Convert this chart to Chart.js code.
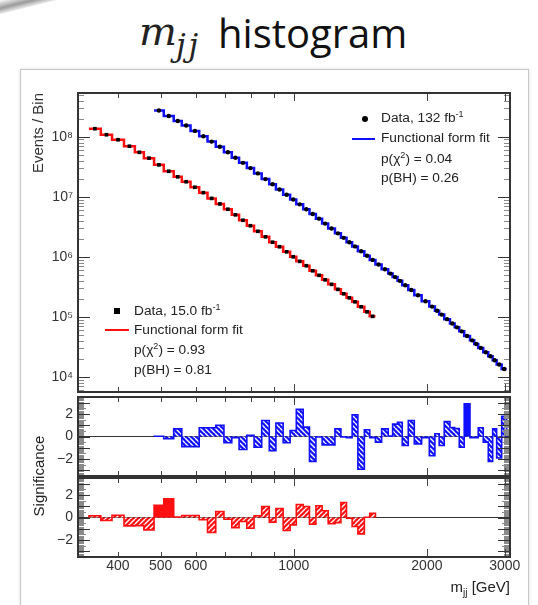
<!DOCTYPE html>
<html>
<head>
<meta charset="utf-8">
<script src="https://cdn.jsdelivr.net/npm/chart.js@4.4.1/dist/chart.umd.min.js"></script>
<style>
  body { margin: 0; width: 538px; height: 605px; overflow: hidden; position: relative; background: #fff;
         font-family: "Liberation Sans", Arial, sans-serif; color: #222; }
  .abs { position: absolute; white-space: nowrap; }
  canvas { position: absolute; left: 0; }
  .leg { font-size: 13.7px; line-height: 16px; }
  .leg sup { font-size: 9px; vertical-align: 5px; line-height: 0; }
  #frame { left: 20px; top: 69px; width: 507px; height: 560px; border: 1px solid #c8c8c8; box-shadow: 0 0 3px #ddd; }
  #corner { left: -12px; top: -6px; width: 72px; height: 14px; transform: rotate(-14deg);
            background: linear-gradient(#fff, #9a9a9a 60%, #eee); }
</style>
</head>
<body>
<div id="corner" class="abs"></div>
<div id="frame" class="abs"></div>

<div class="abs" style="left:139px; top:6px; font-family:'DejaVu Serif'; font-style:italic; font-size:40px; line-height:50px;">m</div>
<div class="abs" style="left:176px; top:26px; font-family:'DejaVu Serif'; font-style:italic; font-size:31px; line-height:38px; letter-spacing:3px;">jj</div>
<div class="abs" style="left:218px; top:8px; font-family:'Open Sans'; font-size:40px; line-height:50px; color:#111;">histogram</div>

<canvas id="main" width="538" height="327" style="top:79px"></canvas>
<canvas id="sigBlue" width="538" height="107" style="top:383px"></canvas>
<canvas id="sigRed" width="538" height="141" style="top:464px"></canvas>

<!-- legends -->
<div class="abs" style="left:362px; top:116px; width:6px; height:6px; border-radius:3px; background:#000;"></div>
<div class="abs leg" style="left:381px; top:110px;">Data, 132 fb<sup>-1</sup></div>
<div class="abs" style="left:352px; top:138px; width:23px; height:2px; background:#1010ff;"></div>
<div class="abs leg" style="left:381px; top:130px;">Functional form fit</div>
<div class="abs leg" style="left:381px; top:151px;">p(χ<sup>2</sup>) = 0.04</div>
<div class="abs leg" style="left:381px; top:170px;">p(BH) = 0.26</div>

<div class="abs" style="left:114px; top:308px; width:6px; height:6px; background:#000;"></div>
<div class="abs leg" style="left:134px; top:303px;">Data, 15.0 fb<sup>-1</sup></div>
<div class="abs" style="left:105px; top:329px; width:24px; height:2px; background:#ff1010;"></div>
<div class="abs leg" style="left:134px; top:322px;">Functional form fit</div>
<div class="abs leg" style="left:134px; top:342px;">p(χ<sup>2</sup>) = 0.93</div>
<div class="abs leg" style="left:134px; top:362px;">p(BH) = 0.81</div>

<div class="abs" style="left:-3px; top:467px; width:84px; text-align:center; transform:rotate(-90deg); font-size:15px; line-height:18px;">Significance</div>
<div class="abs" style="right:28px; top:578px; font-size:15px; line-height:18px;">m<sub style="font-size:10px;">jj</sub> [GeV]</div>

<script>
// bin edges in GeV (shared by both datasets)
const edges = [344, 366, 388, 413, 437, 458, 483, 508, 535, 558, 584, 611, 638, 666, 695, 724, 752, 783, 813, 846,
  880, 911, 946, 981, 1013, 1050, 1085, 1122, 1159, 1196, 1239, 1278, 1316, 1355, 1396, 1444, 1485, 1530, 1580, 1635,
  1673, 1716, 1759, 1815, 1873, 1946, 2025, 2085, 2132, 2189, 2255, 2311, 2367, 2429, 2503, 2559, 2613, 2682, 2753, 2817,
  2876, 2952, 3030];

// 15.0 fb-1, starts at edge 0
const redFirst = 0;
const redCounts = [1.36e8, 1.08e8, 8.9e7, 6.95e7, 5.5e7, 4.4e7, 3.4e7, 2.66e7, 2.15e7, 1.78e7,
  1.44e7, 1.17e7, 9.4e6, 7.6e6, 6.2e6, 5.0e6, 4.06e6, 3.29e6, 2.66e6, 2.15e6,
  1.75e6, 1.47e6, 1.21e6, 1.0e6, 8.4e5, 7.1e5, 5.85e5, 4.92e5, 4.14e5, 3.48e5,
  2.87e5, 2.42e5, 2.07e5, 1.78e5, 1.47e5, 1.21e5, 1.02e5];
const redSig = [0.15, -0.27, 0.2, -0.74, -0.72, -1.1, 1.07, 1.66, 0.05, 0.18,
  0.18, -0.2, -1.33, 0.53, -0.15, -0.9, -0.35, -0.95, 0.15, 0.98,
  -0.41, 0.8, -1.15, -0.65, 1.15, 0.98, -0.6, 1.04, 0.6, -0.56,
  -0.45, 1.33, -0.06, -0.8, -1.45, 0.02, 0.38];
const redSolid = [6, 7];

// 132 fb-1, starts at edge 6
const blueFirst = 6;
const blueCounts = [2.74e8, 2.22e8, 1.83e8, 1.54e8, 1.25e8, 1.02e8, 8.3e7, 6.8e7, 5.5e7, 4.47e7,
  3.67e7, 3.0e7, 2.45e7, 1.97e7, 1.62e7, 1.32e7, 1.08e7, 8.98e6, 7.47e6, 6.21e6,
  5.17e6, 4.32e6, 3.57e6, 2.96e6, 2.46e6, 2.07e6, 1.75e6, 1.49e6, 1.24e6, 1.04e6,
  8.88e5, 7.46e5, 6.19e5, 5.25e5, 4.59e5, 3.98e5, 3.36e5, 2.8e5, 2.29e5, 1.82e5,
  1.48e5, 1.26e5, 1.09e5, 9.16e4, 7.73e4, 6.68e4, 5.73e4, 4.79e4, 4.06e4, 3.53e4,
  3.04e4, 2.57e4, 2.2e4, 1.89e4, 1.61e4, 1.35e4];
const blueSig = [0.02, -0.2, 0.68, -0.9, -0.9, 0.77, 0.77, 1.0, -0.56, -0.1,
  -1.15, 0.1, -0.95, 1.42, -1.25, 1.2, -0.56, 0.53, 2.4, 0.83,
  -2.2, -0.05, -0.74, -0.74, 0.68, -0.05, -0.1, 1.93, -2.9, 0.6,
  -0.1, -0.5, 0.68, 0.05, 1.1, 1.25, -0.8, 1.42, -0.65, -0.1,
  -1.7, 0.24, -0.8, 1.33, 0.8, 0.7, -0.95, 2.9, -0.1, -0.1,
  0.77, -0.5, -2.2, 0.68, -1.9, 1.8];
const blueSolid = [47];

const xLabels = [400, 500, 600, 1000, 2000, 3000];
const xMarks = [400, 500, 600, 700, 800, 900, 1000, 2000, 3000];

const BLUE = "#1010ff", RED = "#ff1010";
const X_MIN = 325, X_MAX = 3083;
const AXIS_W = 78;

function steps(first, vals, closed) {
  const pts = [];
  if (closed) pts.push({ x: edges[first], y: 0 });
  vals.forEach((v, i) => {
    pts.push({ x: edges[first + i], y: v }, { x: edges[first + i + 1], y: v });
  });
  if (closed) pts.push({ x: edges[first + vals.length], y: 0 });
  return pts;
}

function centers(first, vals) {
  return vals.map((v, i) => ({ x: Math.sqrt(edges[first + i] * edges[first + i + 1]), y: v }));
}

function hatch(color, dir) {
  const c = document.createElement("canvas");
  c.width = c.height = 5;
  const g = c.getContext("2d");
  g.fillStyle = color;
  g.fillRect(0, 0, 5, 5);
  g.strokeStyle = "#fff";
  g.lineWidth = 1.4;
  g.beginPath();
  for (let k = -5; k <= 5; k += 5) {
    if (dir > 0) { g.moveTo(k, 5); g.lineTo(k + 5, 0); }
    else { g.moveTo(k, 0); g.lineTo(k + 5, 5); }
  }
  g.stroke();
  return g.createPattern(c, "repeat");
}

// ROOT style frame with inward ticks
function makeFrame(yTicks, zeroLine) {
  return {
    id: "rootFrame",
    beforeDatasetsDraw(chart) {
      if (!zeroLine) return;
      const { ctx, chartArea: a, scales } = chart;
      const y = scales.y.getPixelForValue(0);
      ctx.save();
      ctx.strokeStyle = "#333";
      ctx.lineWidth = 1;
      ctx.beginPath();
      ctx.moveTo(a.left, y); ctx.lineTo(a.right, y);
      ctx.stroke();
      ctx.restore();
    },
    afterDatasetsDraw(chart) {
      const { ctx, chartArea: a, scales } = chart;
      ctx.save();
      ctx.lineWidth = 1;
      const tick = (major, color) => {
        ctx.strokeStyle = color;
        ctx.beginPath();
        yTicks.filter(t => t.major === major).forEach(t => {
          const y = Math.round(scales.y.getPixelForValue(t.v)) + 0.5;
          ctx.moveTo(a.left, y); ctx.lineTo(a.left + t.len, y);
          ctx.moveTo(a.right, y); ctx.lineTo(a.right - t.len, y);
        });
        ctx.stroke();
      };
      tick(false, "#8a8a8a");
      tick(true, "#333");
      ctx.strokeStyle = "#444";
      ctx.beginPath();
      xMarks.forEach(v => {
        const x = Math.round(scales.x.getPixelForValue(v)) + 0.5;
        const len = v >= 1000 ? 8 : 5;
        ctx.moveTo(x, a.top); ctx.lineTo(x, a.top + len);
        ctx.moveTo(x, a.bottom); ctx.lineTo(x, a.bottom - len);
      });
      ctx.stroke();
      ctx.strokeStyle = "#333";
      ctx.lineWidth = 2;
      ctx.strokeRect(a.left, a.top, a.right - a.left, a.bottom - a.top);
      ctx.restore();
    }
  };
}

function xAxis(show) {
  return {
    type: "logarithmic", min: X_MIN, max: X_MAX, display: show,
    afterBuildTicks: s => { s.ticks = xLabels.map(v => ({ value: v })); },
    afterFit: s => { s.height = show ? 48 : 0; },
    grid: { display: false, drawTicks: false },
    border: { display: false },
    ticks: { autoSkip: false, maxRotation: 0, padding: 1, color: "#333",
      font: { family: "Liberation Sans", size: 14 }, callback: v => String(v) }
  };
}

Chart.defaults.font.family = "Liberation Sans";

// main panel
const sup = { 3: "³", 4: "⁴", 5: "⁵", 6: "⁶", 7: "⁷", 8: "⁸" };
const mainTicks = [];
for (let n = 3; n <= 8; n++) {
  for (let k = 1; k <= 9; k++) {
    const v = k * Math.pow(10, n);
    if (v > 5.6e3 && v < 5.35e8) mainTicks.push({ v, major: k === 1, len: k === 1 ? 12 : 6 });
  }
}

new Chart(document.getElementById("main"), {
  type: "line",
  data: {
    datasets: [
      { data: centers(blueFirst, blueCounts), showLine: false, pointStyle: "circle", pointRadius: 2.2,
        pointBackgroundColor: "#000", pointBorderWidth: 0 },
      { data: centers(redFirst, redCounts), showLine: false, pointStyle: "rect", pointRadius: 2.6,
        pointBackgroundColor: "#000", pointBorderWidth: 0 },
      { data: steps(blueFirst, blueCounts, false), borderColor: BLUE, borderWidth: 2.5, pointRadius: 0, fill: false },
      { data: steps(redFirst, redCounts, false), borderColor: RED, borderWidth: 2.5, pointRadius: 0, fill: false }
    ]
  },
  options: {
    responsive: false, animation: false, events: [],
    layout: { autoPadding: false, padding: { left: 0, right: 28, top: 14, bottom: 14 } },
    plugins: { legend: { display: false }, tooltip: { enabled: false } },
    scales: {
      x: xAxis(false),
      y: {
        type: "logarithmic", min: 5.6e3, max: 5.35e8,
        afterBuildTicks: s => { s.ticks = [1e4, 1e5, 1e6, 1e7, 1e8].map(v => ({ value: v })); },
        afterFit: s => { s.width = AXIS_W; },
        grid: { display: false, drawTicks: false },
        border: { display: false },
        ticks: { padding: 5, color: "#333", font: { size: 14 },
          callback: v => "10" + sup[Math.round(Math.log10(v))] },
        title: { display: true, text: "Events / Bin", align: "end", color: "#333",
          font: { size: 15 }, padding: { top: 30, bottom: 0 } }
      }
    }
  },
  plugins: [makeFrame(mainTicks, false)]
});

// significance panels
const sigTicks = [];
for (let i = -35; i <= 35; i++) {
  sigTicks.push({ v: i / 10, major: i % 10 === 0, len: i % 10 === 0 ? 12 : (i % 5 === 0 ? 8 : 6) });
}

function sigChart(id, first, sig, solid, color, dir, showX, pad) {
  const solidVals = sig.map((s, i) => solid.includes(i) ? s : 0);
  return new Chart(document.getElementById(id), {
    type: "line",
    data: {
      datasets: [
        { data: steps(first, solidVals, true), borderColor: "transparent", borderWidth: 0, pointRadius: 0,
          fill: "origin", backgroundColor: color },
        { data: steps(first, sig, true), borderColor: color, borderWidth: 1.6, pointRadius: 0,
          fill: "origin", backgroundColor: hatch(color, dir) }
      ]
    },
    options: {
      responsive: false, animation: false, events: [],
      layout: { autoPadding: false, padding: pad },
      plugins: { legend: { display: false }, tooltip: { enabled: false } },
      scales: {
        x: xAxis(showX),
        y: {
          type: "linear", min: -3.5, max: 3.5,
          afterBuildTicks: s => { s.ticks = [-2, 0, 2].map(v => ({ value: v })); },
          afterFit: s => { s.width = AXIS_W; },
          grid: { display: false, drawTicks: false },
          border: { display: false },
          ticks: { padding: 5, color: "#333", font: { size: 14 },
            callback: v => v < 0 ? "\u2212" + Math.abs(v) : String(v) }
        }
      }
    },
    plugins: [makeFrame(sigTicks, true)]
  });
}

sigChart("sigBlue", blueFirst, blueSig, blueSolid, BLUE, -1, false, { left: 0, right: 28, top: 14, bottom: 14 });
sigChart("sigRed", redFirst, redSig, redSolid, RED, 1, true, { left: 0, right: 28, top: 14, bottom: 0 });
</script>
</body>
</html>
